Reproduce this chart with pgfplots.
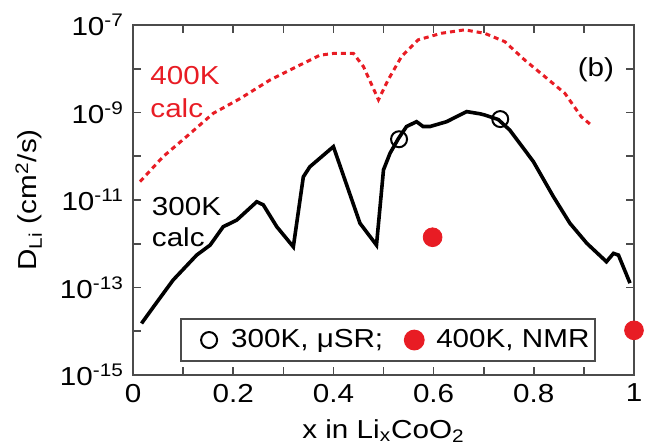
\documentclass[border=0pt]{standalone}
\usepackage{fontspec}
\setmainfont{Liberation Sans}[FakeStretch=1.14]
\usepackage{pgfplots}
\pgfplotsset{compat=1.18}
\definecolor{myred}{RGB}{232,28,36}
\definecolor{axgray}{RGB}{75,75,75}
\begin{document}
\fontsize{13}{15}\selectfont
\begin{tikzpicture}
\path[use as bounding box] (0,0) rectangle (324pt,223pt);
\begin{axis}[
  at={(66.5pt,35.5pt)}, anchor=south west,
  scale only axis, width=250.5pt, height=175pt,
  ymode=log, xmin=0, xmax=1, ymin=1e-15, ymax=1e-7,
  xtick={0,0.1,0.2,0.3,0.4,0.5,0.6,0.7,0.8,0.9,1},
  xticklabels={0,{},0.2,{},0.4,{},0.6,{},0.8,{},1},
  ytick={1e-15,1e-14,1e-13,1e-12,1e-11,1e-10,1e-9,1e-8,1e-7},
  yticklabels={10\textsuperscript{-15},{},10\textsuperscript{-13},{},10\textsuperscript{-11},{},10\textsuperscript{-9},{},10\textsuperscript{-7}},
  tick align=inside, major tick length=4pt, minor tick length=0pt,
  tick style={axgray, line width=0.8pt},
  axis line style={axgray, line width=1pt},
  ticklabel style={font=\fontsize{13}{15}\selectfont},
  label style={font=\fontsize{13}{15}\selectfont},
  xlabel={x in Li\textsubscript{x}CoO\textsubscript{2}},
  xlabel style={yshift=0.5pt},
  ylabel={D\textsubscript{Li} (cm\textsuperscript{2}/s)},
  clip=false,
  legend columns=2,
  legend image code/.code={\path (0pt,0pt) (21pt,0pt); \draw[#1] (10.5pt,0pt) plot coordinates {(10.5pt,0pt)};},
  legend style={at={(rel axis cs:0.094,0.037)}, anchor=south west,
    draw=axgray, line width=1pt, inner xsep=3pt, inner ysep=5pt,
    font=\fontsize{13}{15}\selectfont,
    nodes={inner sep=0pt},
    /tikz/every even column/.append style={column sep=4.5pt}},
]
% 300K calc
\addplot[black, line width=1.8pt, forget plot] coordinates {
(0.017,1.51e-14) (0.041,3.63e-14) (0.080,1.48e-13) (0.127,5.50e-13) (0.154,9.33e-13)
(0.180,2.45e-12) (0.207,3.47e-12) (0.247,9.12e-12) (0.260,7.76e-12) (0.287,2.45e-12)
(0.320,8.51e-13) (0.340,3.39e-11) (0.353,5.75e-11) (0.400,1.66e-10) (0.453,2.95e-12)
(0.486,9.33e-13) (0.500,4.90e-11) (0.513,1.17e-10) (0.530,2.57e-10) (0.546,4.79e-10)
(0.566,6.17e-10) (0.579,4.79e-10) (0.593,4.79e-10) (0.626,6.17e-10) (0.666,1.05e-9)
(0.693,9.33e-10) (0.703,8.71e-10) (0.729,6.92e-10) (0.752,3.98e-10) (0.799,7.59e-11)
(0.839,1.20e-11) (0.872,2.95e-12) (0.906,1.02e-12) (0.945,3.89e-13) (0.959,6.03e-13)
(0.969,5.50e-13) (0.992,1.26e-13)
};
% 400K calc
\addplot[myred, line width=1.5pt, dash pattern=on 2.5pt off 2pt, forget plot] coordinates {
(0.014,2.63e-11) (0.060,9.77e-11) (0.114,3.31e-10) (0.160,9.55e-10) (0.214,2.09e-9)
(0.273,5.50e-9) (0.327,1.12e-8) (0.373,2.04e-8) (0.400,2.24e-8) (0.440,2.24e-8)
(0.460,1.12e-8) (0.490,1.95e-9) (0.509,5.50e-9) (0.536,1.91e-8) (0.569,4.57e-8)
(0.615,6.46e-8) (0.662,7.76e-8) (0.702,6.46e-8) (0.742,4.17e-8) (0.782,1.58e-8)
(0.822,6.61e-9) (0.862,2.75e-9) (0.895,7.94e-10) (0.918,4.79e-10)
};
\addplot[only marks, mark=o, mark size=4pt, black, line width=1pt] coordinates {
(0.531,2.45e-10) (0.733,7.08e-10)
};
\addlegendentry{300K, μSR;}
\addplot[only marks, mark=*, mark size=4.7pt, myred, draw=myred] coordinates {
(0.598,1.41e-12) (1.0,1.05e-14)
};
\addlegendentry{400K, NMR}
\node[anchor=base west, text=myred, inner sep=0pt] at (rel axis cs:0.034,0.829) {400K};
\node[anchor=base west, text=myred, inner sep=0pt] at (rel axis cs:0.034,0.737) {calc};
\node[anchor=base west, inner sep=0pt] at (rel axis cs:0.037,0.457) {300K};
\node[anchor=base west, inner sep=0pt] at (rel axis cs:0.037,0.367) {calc};
\node[inner sep=0pt] at (rel axis cs:0.924,0.871) {(b)};
\end{axis}
\end{tikzpicture}
\end{document}
